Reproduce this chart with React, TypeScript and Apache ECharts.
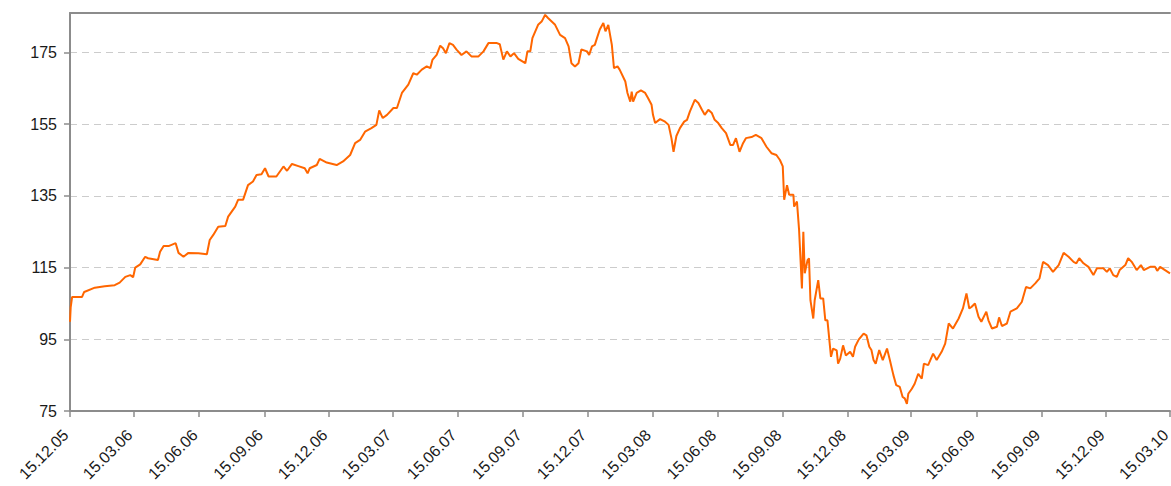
import { useEffect, useRef } from 'react';
import * as echarts from 'echarts';

const startDate = '2005-12-15';
const endDate = '2010-03-15';

const xTickDates = [
  '2005-12-15', '2006-03-15', '2006-06-15', '2006-09-15', '2006-12-15',
  '2007-03-15', '2007-06-15', '2007-09-15', '2007-12-15', '2008-03-15',
  '2008-06-15', '2008-09-15', '2008-12-15', '2009-03-15', '2009-06-15',
  '2009-09-15', '2009-12-15', '2010-03-15',
];

const yTickValues = [75, 95, 115, 135, 155, 175];

// days since 15.12.2005
const dayOffsets = [
  0, 1, 3, 17, 20, 35, 49, 63, 70, 78, 85, 89, 92, 99, 106, 110, 124, 127, 132, 139,
  149, 153, 160, 167, 181, 193, 197, 202, 209, 219, 223, 233, 237, 244, 251, 258, 263, 270, 275, 280,
  291, 301, 306, 313, 322, 331, 335, 338, 348, 352, 362, 376, 385, 395, 402, 409, 416, 425, 432, 436,
  441, 447, 456, 461, 468, 477, 484, 489, 496, 503, 508, 511, 517, 522, 526, 530, 535, 540, 545, 552,
  559, 566, 576, 583, 590, 602, 606, 611, 616, 621, 626, 632, 642, 645, 649, 652, 660, 665, 670, 674,
  684, 691, 698, 703, 707, 712, 717, 721, 729, 732, 736, 740, 743, 747, 752, 755, 759, 764, 767, 772,
  775, 783, 786, 790, 792, 794, 799, 805, 811, 815, 820, 822, 825, 832, 839, 844, 848, 851, 855, 860,
  866, 870, 874, 881, 886, 891, 895, 900, 905, 909, 914, 919, 925, 931, 935, 939, 944, 949, 953, 961,
  967, 975, 982, 989, 996, 1001, 1005, 1007, 1011, 1014, 1020, 1021, 1025, 1028, 1032, 1034, 1036, 1040, 1042, 1044,
  1048, 1050, 1055, 1058, 1062, 1065, 1068, 1073, 1076, 1081, 1083, 1086, 1090, 1094, 1100, 1104, 1107, 1112, 1119, 1123,
  1127, 1130, 1133, 1136, 1141, 1146, 1152, 1156, 1161, 1165, 1170, 1174, 1177, 1180, 1182, 1187, 1191, 1196, 1201, 1204,
  1210, 1217, 1222, 1229, 1234, 1239, 1245, 1253, 1259, 1264, 1268, 1271, 1276, 1281, 1285, 1292, 1295, 1300, 1307, 1310,
  1314, 1321, 1326, 1335, 1342, 1348, 1354, 1361, 1367, 1372, 1379, 1386, 1394, 1401, 1408, 1415, 1419, 1423, 1429, 1436,
  1443, 1448, 1457, 1462, 1466, 1471, 1476, 1480, 1488, 1492, 1497, 1504, 1510, 1514, 1523, 1530, 1533, 1537, 1544, 1551,
];

const indexValues = [
  99.9, 104, 106.8, 106.8, 108.2, 109.4, 109.8, 110.1, 110.8, 112.4, 112.9, 112.3, 115.0, 115.9, 118, 117.6, 117.1, 119.4, 121, 121,
  121.8, 119.1, 118, 119.1, 119, 118.7, 122.7, 124.1, 126.4, 126.6, 129.2, 132, 133.9, 133.9, 138, 139, 140.8, 141, 142.7, 140.4,
  140.4, 143.2, 142, 143.9, 143.3, 142.7, 141.3, 142.7, 143.6, 145.3, 144.3, 143.6, 144.6, 146.4, 149.7, 150.6, 152.9, 153.9, 154.8, 158.8,
  156.7, 157.6, 159.5, 159.5, 163.7, 166, 169.2, 168.8, 170.2, 171.1, 170.6, 172.9, 174.3, 176.9, 176.2, 174.8, 177.6, 177.1, 175.8, 174.3,
  175.3, 173.9, 173.9, 175.3, 177.6, 177.6, 177.3, 173, 175.3, 173.9, 174.8, 173.2, 172, 175.3, 175.3, 179, 182.7, 183.6, 185.5, 184.6,
  182.7, 179.9, 179, 176.7, 172, 171.1, 172, 175.8, 175.3, 174.3, 176.7, 177.1, 179, 181.4, 183.2, 180.9, 182.7, 177.1, 170.6, 171.1,
  170.2, 166.9, 163.7, 161.3, 164.1, 161.3, 163.7, 164.4, 163.7, 162.3, 160.4, 157.6, 155.3, 156.4, 155.7, 154.8, 151.1, 147.3, 151.7, 153.9,
  155.7, 156.2, 158.5, 161.8, 160.9, 159, 157.6, 159, 158.1, 156.2, 155.3, 153.9, 152.5, 149.2, 149.2, 151.1, 147.3, 149.7, 151.1, 151.4,
  152, 151.1, 148.7, 146.9, 146.4, 145, 143.2, 133.9, 138, 135.3, 135.3, 132, 133.4, 125.5, 109.2, 125, 113.4, 117.1, 117.6, 105.9,
  100.8, 105.9, 111.5, 106.4, 106.4, 100.3, 100.3, 90.1, 92.4, 91.9, 88.2, 89.6, 93.3, 90.5, 91.5, 90.1, 92.9, 94.9, 96.6, 96.1,
  92.9, 92, 89.2, 88.2, 92, 89.2, 92.4, 89.2, 85, 82.2, 81.7, 78.9, 78.5, 77.0, 79.8, 81.2, 82.6, 85.4, 84, 88.2,
  87.8, 91, 89.2, 91.5, 93.8, 99.4, 98, 100.8, 103.6, 107.8, 103.6, 104, 105, 101.3, 99.9, 102.7, 100.3, 98, 98.5, 101.1,
  98.7, 99.4, 102.7, 103.6, 105.4, 109.6, 109.2, 110.6, 112, 116.6, 115.7, 113.8, 115.7, 119.1, 118, 116.6, 116.2, 117.6, 116.2, 115.2,
  112.9, 114.8, 114.8, 113.8, 114.8, 112.9, 112.4, 114.3, 115.7, 117.6, 116.6, 114.3, 115.7, 114.3, 115.2, 115.2, 114.1, 115.2, 114.3, 113.4,
];

const DAY = 86400000;

export default function App() {
  const ref = useRef<HTMLDivElement>(null);

  useEffect(() => {
    if (!ref.current) return;
    const chart = echarts.init(ref.current, null, { renderer: 'svg' });
    const t0 = Date.parse(startDate);
    const t1 = Date.parse(endDate);
    const data = dayOffsets.map((d, i) => [t0 + d * DAY, indexValues[i]]);
    const xTicks = xTickDates.map((s) => Date.parse(s));
    const pad = (n: number) => String(n).padStart(2, '0');
    const fmt = (v: number) => {
      const dt = new Date(Number(v) + DAY / 2);
      return `${pad(dt.getUTCDate())}.${pad(dt.getUTCMonth() + 1)}.${pad(dt.getUTCFullYear() % 100)}`;
    };
    const axisColor = '#8c8c8c';
    const font = 'Liberation Sans, Arial, sans-serif';

    chart.setOption({
      animation: false,
      backgroundColor: '#ffffff',
      grid: { left: 70, right: 1, top: 13, bottom: 75, containLabel: false, outerBoundsMode: 'none' },
      xAxis: [
        {
          type: 'value',
          min: t0,
          max: t1,
          axisLine: { show: true, onZero: false, lineStyle: { color: axisColor, width: 2 } },
          axisTick: { show: true, length: 6, customValues: xTicks, lineStyle: { color: axisColor, width: 1.5 } },
          axisLabel: {
            customValues: xTicks,
            formatter: fmt,
            rotate: 45,
            margin: 17,
            padding: [0, 6, 0, 0],
            color: '#1a1a1a',
            fontSize: 16,
            fontFamily: font,
            hideOverlap: false,
          },
          splitLine: { show: false },
        },
        {
          type: 'value',
          position: 'top',
          min: t0,
          max: t1,
          axisLine: { show: true, onZero: false, lineStyle: { color: axisColor, width: 2 } },
          axisTick: { show: false },
          axisLabel: { show: false },
          splitLine: { show: false },
        },
      ],
      yAxis: {
        type: 'value',
        min: 75,
        max: 186,
        axisLine: { show: true, onZero: false, lineStyle: { color: axisColor, width: 2 } },
        axisTick: { show: true, length: 6, customValues: yTickValues, lineStyle: { color: axisColor, width: 1.5 } },
        axisLabel: { customValues: yTickValues, color: '#1a1a1a', fontSize: 16, fontFamily: font, margin: 13 },
        splitLine: { show: true, lineStyle: { color: '#cccccc', width: 1, type: [7, 5] } },
      },
      series: [
        {
          type: 'line',
          xAxisIndex: 0,
          data,
          showSymbol: false,
          symbol: 'none',
          lineStyle: { color: '#ff6600', width: 2 },
          itemStyle: { color: '#ff6600' },
        },
      ],
    });
    return () => chart.dispose();
  }, []);

  return (
    <div
      ref={ref}
      style={{ position: 'fixed', left: 0, top: 0, width: 1171, height: 486, background: '#fff' }}
    />
  );
}
